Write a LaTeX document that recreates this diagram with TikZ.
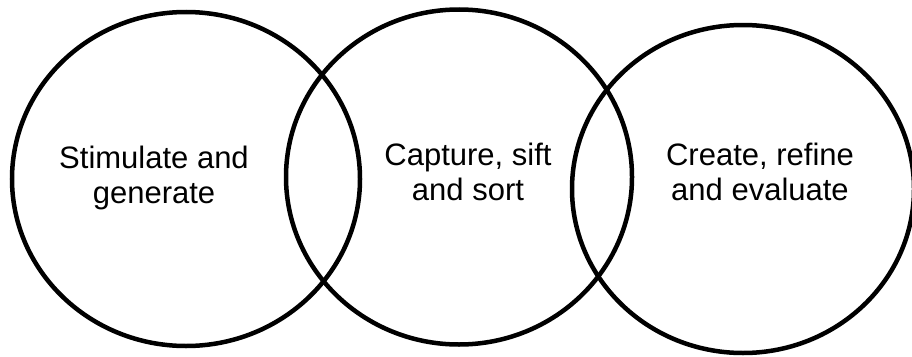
\documentclass[tikz,border=0pt]{standalone}
\usepackage{fontspec}
\setmainfont{Liberation Sans}
\usetikzlibrary{shapes.geometric}
\begin{document}
\begin{tikzpicture}[x=1pt,y=-1pt,
  ring/.style={draw=black, line width=4.5pt, ellipse, inner sep=0pt, outer sep=0pt},
  label/.style={align=center, inner sep=0pt, font=\fontsize{31}{35}\selectfont}]
\useasboundingbox (0,0) rectangle (912,356);
\node[ring, minimum width=348pt, minimum height=334pt] (c1) at (186,179) {};
\node[ring, minimum width=346pt, minimum height=335pt] (c2) at (459,177) {};
\node[ring, minimum width=342pt, minimum height=328pt] (c3) at (743,189) {};
\node[label] (t1) at (154,177.5) {Stimulate and\\generate};
\node[label] (t2) at (468,171.5) {Capture, sift\\and sort};
\node[label] (t3) at (760,171.5) {Create, refine\\and evaluate};
\end{tikzpicture}
\end{document}
